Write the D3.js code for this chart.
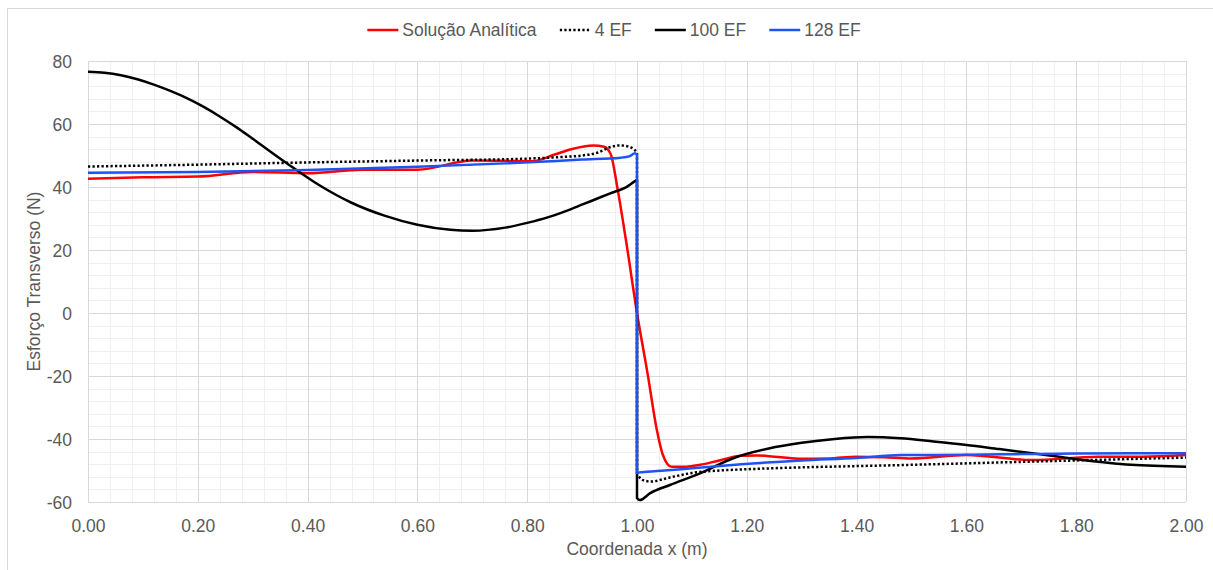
<!DOCTYPE html>
<html>
<head>
<meta charset="utf-8">
<script src="https://cdn.jsdelivr.net/npm/d3@7"></script>
<style>
  html, body { margin: 0; padding: 0; background: #fff; }
  svg { display: block; font-family: "Liberation Sans", Arial, sans-serif; }
  .tick text { fill: #595959; font-size: 17.5px; }
</style>
</head>
<body>
<svg id="chart" width="1213" height="570"></svg>
<script>
// Esforço transverso ao longo da viga: solução analítica vs. modelos de elementos finitos

const xTicks = [0, 0.2, 0.4, 0.6, 0.8, 1.0, 1.2, 1.4, 1.6, 1.8, 2.0];
const yTicks = [-60, -40, -20, 0, 20, 40, 60, 80];

// Solução Analítica
const analX = [0, 0.1, 0.2, 0.3, 0.4, 0.5, 0.6, 0.7, 0.76, 0.81, 0.85, 0.88, 0.92, 0.94, 0.952, 0.965, 0.98, 1.0, 1.02, 1.036, 1.047, 1.063, 1.09, 1.115, 1.15, 1.19, 1.22, 1.25, 1.3, 1.35, 1.4, 1.45, 1.5, 1.6, 1.72, 1.84, 1.92, 2.0];
const analV = [42.6, 43.1, 43.3, 44.8, 44.4, 45.5, 45.5, 48.4, 48.3, 48.2, 50.3, 52.0, 53.2, 52.8, 50.5, 39.0, 23.0, 0, -20.0, -37.0, -45.0, -48.8, -48.8, -48.2, -46.8, -45.3, -45.2, -45.6, -46.3, -46.2, -45.6, -45.8, -46.2, -45.1, -46.7, -45.6, -45.6, -45.1];

// 4 EF
const ef4X = [0, 0.2, 0.4, 0.6, 0.8, 0.86, 0.9, 0.93, 0.95, 0.97, 0.99, 1.0, 1.0, 1.01, 1.025, 1.06, 1.1, 1.15, 1.2, 1.5, 1.8, 2.0];
const ef4V = [46.5, 47.1, 47.8, 48.4, 49.0, 49.5, 50.0, 51.0, 52.6, 53.2, 52.5, 51.0, -51.0, -53.0, -53.5, -52.2, -50.8, -50.0, -49.6, -48.2, -46.8, -45.9];

// 100 EF
const ef100X = [0, 0.03, 0.06, 0.09, 0.12, 0.15, 0.18, 0.21, 0.24, 0.27, 0.3, 0.36, 0.42, 0.48, 0.54, 0.6, 0.66, 0.7, 0.76, 0.8, 0.84, 0.88, 0.92, 0.95, 0.982, 0.995, 1.0, 1.0, 1.005, 1.024, 1.06, 1.115, 1.175, 1.24, 1.3, 1.36, 1.42, 1.48, 1.54, 1.6, 1.66, 1.72, 1.8, 1.9, 2.0];
const ef100V = [76.6, 76.3, 75.5, 74.2, 72.5, 70.5, 68.2, 65.5, 62.4, 59.0, 55.3, 47.8, 40.7, 35.0, 30.9, 28.0, 26.4, 26.1, 27.1, 28.6, 30.5, 33.0, 35.8, 37.9, 40.1, 41.7, 42.3, -58.8, -59.4, -57.2, -54.6, -50.9, -46.1, -43.0, -41.2, -40.0, -39.4, -39.8, -40.8, -41.9, -43.2, -44.5, -46.4, -48.2, -48.8];

// 128 EF
const ef128X = [0, 0.2, 0.4, 0.6, 0.76, 0.9, 0.97, 0.987, 0.996, 1.0, 1.0, 1.005, 1.018, 1.05, 1.1, 1.19, 1.3, 1.4, 1.48, 1.6, 1.7, 1.8, 1.9, 2.0];
const ef128V = [44.5, 44.8, 45.4, 46.4, 47.5, 48.7, 49.3, 49.8, 50.7, 50.3, -50.8, -50.6, -50.4, -50.0, -49.3, -48.0, -46.8, -46.0, -45.1, -45.0, -44.8, -44.6, -44.5, -44.5];

const seriesNames = ["Solução Analítica", "4 EF", "100 EF", "128 EF"];
const seriesColors = ["#ff0000", "#000000", "#000000", "#1f52f5"];
const seriesDash = [null, "2.25,2.25", null, null];

const series = [
  { name: seriesNames[0], xs: analX, vs: analV, color: seriesColors[0], dash: seriesDash[0] },
  { name: seriesNames[1], xs: ef4X, vs: ef4V, color: seriesColors[1], dash: seriesDash[1] },
  { name: seriesNames[2], xs: ef100X, vs: ef100V, color: seriesColors[2], dash: seriesDash[2] },
  { name: seriesNames[3], xs: ef128X, vs: ef128V, color: seriesColors[3], dash: seriesDash[3] }
];

const svg = d3.select("#chart");
const W = 1213, H = 570;
const plot = { left: 88, right: 1186, top: 61, bottom: 502 };

const x = d3.scaleLinear().domain([0, 2]).range([plot.left, plot.right]);
const y = d3.scaleLinear().domain([-60, 80]).range([plot.bottom, plot.top]);

// chart frame
svg.append("rect")
  .attr("x", 7.5).attr("y", 8.5)
  .attr("width", W + 20).attr("height", H + 20)
  .attr("fill", "#fff").attr("stroke", "#d9d9d9").attr("stroke-width", 1);

// minor gridlines
const minorX = d3.range(0, 2.0001, 0.04);
const minorY = d3.range(-60, 80.0001, 4);
svg.append("g")
  .attr("transform", `translate(0,${plot.bottom})`)
  .call(d3.axisBottom(x).tickValues(minorX).tickSize(-(plot.bottom - plot.top)).tickFormat(""))
  .call(g => g.select(".domain").remove())
  .call(g => g.selectAll("line").attr("stroke", "#f0f0f0").attr("shape-rendering", "crispEdges"));
svg.append("g")
  .attr("transform", `translate(${plot.left},0)`)
  .call(d3.axisLeft(y).tickValues(minorY).tickSize(-(plot.right - plot.left)).tickFormat(""))
  .call(g => g.select(".domain").remove())
  .call(g => g.selectAll("line").attr("stroke", "#f0f0f0").attr("shape-rendering", "crispEdges"));

// major gridlines + tick labels
svg.append("g")
  .attr("transform", `translate(0,${plot.bottom})`)
  .call(d3.axisBottom(x).tickValues(xTicks).tickSize(-(plot.bottom - plot.top)).tickPadding(0).tickFormat(d3.format(".2f")))
  .call(g => g.select(".domain").remove())
  .call(g => g.selectAll("line").attr("stroke", "#d9d9d9").attr("shape-rendering", "crispEdges"))
  .call(g => g.selectAll("text").attr("dy", null).attr("y", 30).attr("font-family", null).attr("font-size", null));
svg.append("g")
  .attr("transform", `translate(${plot.left},0)`)
  .call(d3.axisLeft(y).tickValues(yTicks).tickSize(-(plot.right - plot.left)).tickPadding(0).tickFormat(d => String(d)))
  .call(g => g.select(".domain").remove())
  .call(g => g.selectAll("line").attr("stroke", "#d9d9d9").attr("shape-rendering", "crispEdges"))
  .call(g => g.selectAll("text").attr("x", -16).attr("dy", "0.35em").attr("font-family", null).attr("font-size", null));

// series: smooth pieces joined by straight vertical jumps where x repeats
const smooth = d3.line()
  .x(d => x(d[0]))
  .y(d => y(d[1]))
  .curve(d3.curveMonotoneX);

function seriesPath(s) {
  const pts = s.xs.map((v, i) => [v, s.vs[i]]);
  const pieces = [[pts[0]]];
  for (let i = 1; i < pts.length; i++) {
    if (pts[i][0] === pts[i - 1][0]) pieces.push([pts[i]]);
    else pieces[pieces.length - 1].push(pts[i]);
  }
  return pieces.map((p, k) => {
    const d = smooth(p);
    return k === 0 ? d : "L" + d.slice(1);
  }).join("");
}

svg.append("g").selectAll("path")
  .data(series)
  .join("path")
  .attr("d", seriesPath)
  .attr("fill", "none")
  .attr("stroke", s => s.color)
  .attr("stroke-width", 2.5)
  .attr("stroke-dasharray", s => s.dash)
  .attr("stroke-linejoin", "round");

// axis titles
svg.append("text")
  .attr("x", (plot.left + plot.right) / 2).attr("y", 555)
  .attr("text-anchor", "middle").attr("fill", "#595959").attr("font-size", 17.5)
  .text("Coordenada x (m)");
svg.append("text")
  .attr("transform", `translate(40,${(plot.top + plot.bottom) / 2}) rotate(-90)`)
  .attr("text-anchor", "middle").attr("fill", "#595959").attr("font-size", 17.5)
  .text("Esforço Transverso (N)");

// legend
const legend = svg.append("g");
const items = legend.selectAll("g").data(series).join("g");
items.append("line")
  .attr("x1", 0).attr("x2", 31).attr("y1", 0).attr("y2", 0)
  .attr("stroke", s => s.color).attr("stroke-width", 2.5)
  .attr("stroke-dasharray", s => s.dash);
items.append("text")
  .attr("x", 35).attr("y", 6)
  .attr("fill", "#595959").attr("font-size", 17.5)
  .text(s => s.name);
let cursor = 0;
items.each(function () {
  const w = this.getBBox().width;
  d3.select(this).attr("transform", `translate(${cursor},30)`);
  cursor += w + 23;
});
const total = cursor - 23;
legend.attr("transform", `translate(${614 - total / 2},0)`);
</script>
</body>
</html>
